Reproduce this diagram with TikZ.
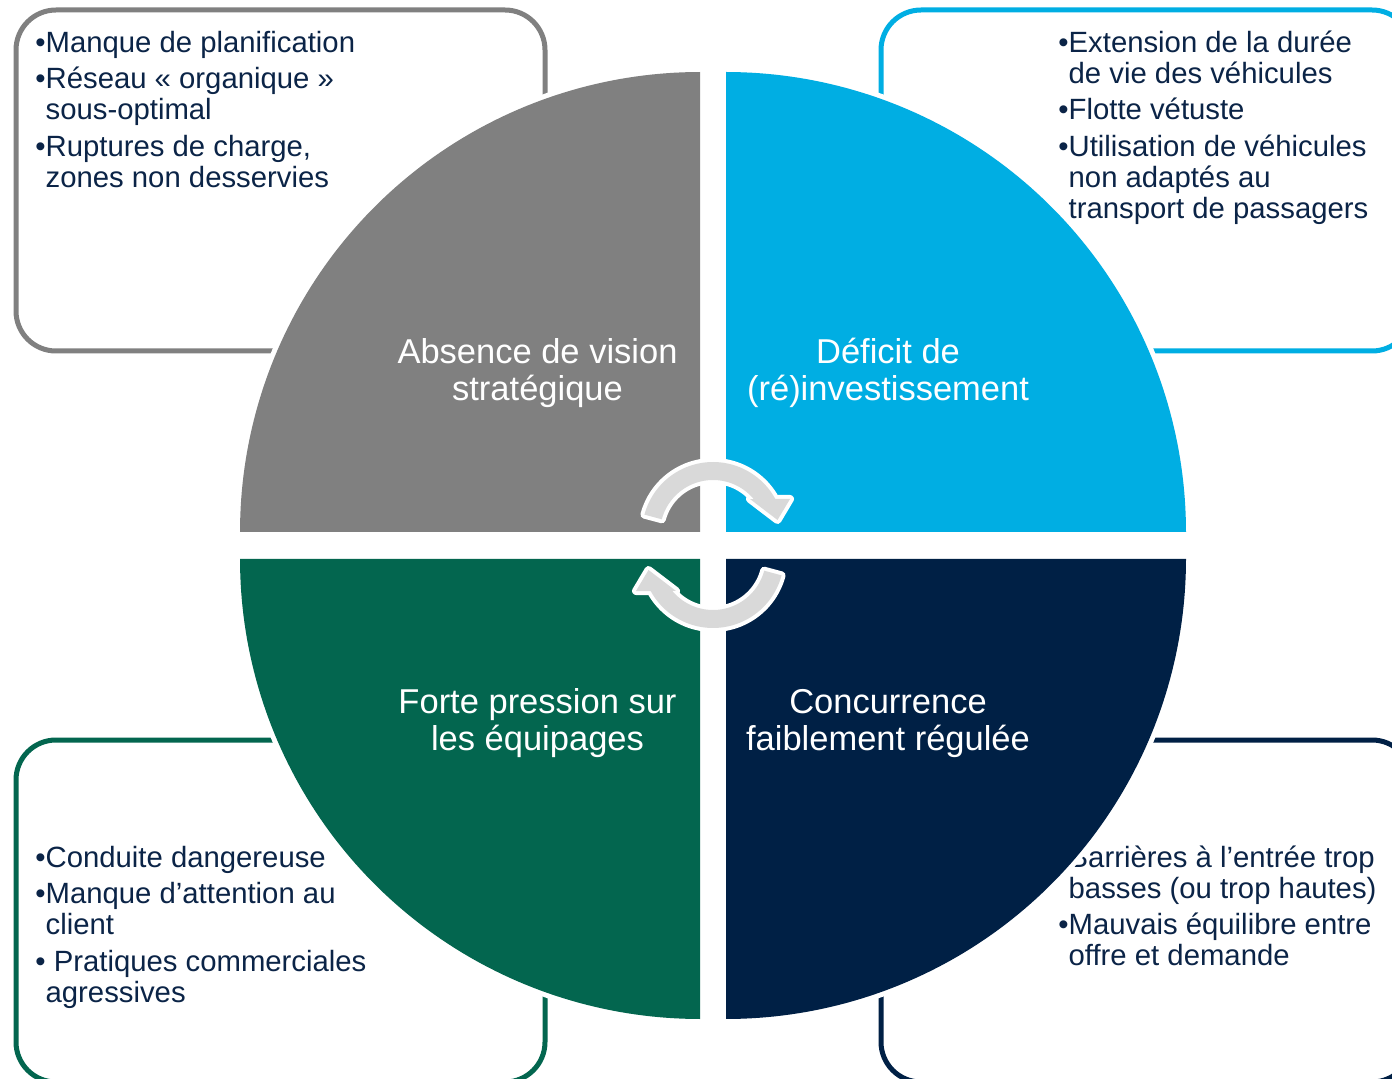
\documentclass[tikz,border=0pt]{standalone}
\usepackage{fontspec}
\setmainfont{Liberation Sans}
\definecolor{qgray}{HTML}{808080}
\definecolor{qblue}{HTML}{00AEE3}
\definecolor{qgreen}{HTML}{03664F}
\definecolor{qnavy}{HTML}{002045}
\definecolor{txtnavy}{HTML}{0B2447}
\definecolor{arrowgray}{HTML}{D9D9D9}
\newcommand{\bulind}{\hphantom{•}}
\begin{document}
\begin{tikzpicture}[x=0.5pt,y=-0.5pt,
  infobox/.style={line width=2.5pt, rounded corners=20pt},
  boxtext/.style={font=\fontsize{14.65}{15.5}\selectfont, text=txtnavy, align=left, inner sep=0pt, anchor=north west},
  quadlabel/.style={font=\fontsize{17.25}{18.5}\selectfont, text=white, align=center, inner sep=0pt, anchor=north},
  halo/.style={draw=white, line width=5pt, line join=round},
  arrowhalo/.style={draw=white, line width=4pt, line join=round}]
\useasboundingbox (0,0) rectangle (1392,1079);
\clip (0,0) rectangle (1392,1079);
\fill[white] (0,0) rectangle (1392,1079);

% outer boxes
\draw[infobox, draw=qgray]  (16,10)  rectangle (545,351);
\draw[infobox, draw=qblue]  (881,10) rectangle (1412,351);
\draw[infobox, draw=qgreen] (16,740) rectangle (545,1082);
\draw[infobox, draw=qnavy]  (881,740) rectangle (1412,1082);

% box texts
\node[boxtext] (tltext) at (35,28) {\rule{0pt}{12pt}•Manque de planification\\[2.75pt]
•Réseau « organique »\\
\bulind sous-optimal\\[2.75pt]
•Ruptures de charge,\\
\bulind zones non desservies};
\node[boxtext] (trtext) at (1058,28) {\rule{0pt}{12pt}•Extension de la durée\\
\bulind de vie des véhicules\\[2.75pt]
•Flotte vétuste\\[2.75pt]
•Utilisation de véhicules\\
\bulind non adaptés au\\
\bulind transport de passagers};
\node[boxtext] (bltext) at (35,843) {\rule{0pt}{12pt}•Conduite dangereuse\\[2.75pt]
•Manque d’attention au\\
\bulind client\\[2.75pt]
• Pratiques commerciales\\
\bulind agressives};
\node[boxtext] (brtext) at (1058,843) {\rule{0pt}{12pt}•Barrières à l’entrée trop\\
\bulind basses (ou trop hautes)\\[2.75pt]
•Mauvais équilibre entre\\
\bulind offre et demande};

% quarter discs: white halo first, then fill
\foreach \cx/\cy/\a/\b/\col in {700/532/180/270/qgray, 726/532/270/360/qblue, 726/559/0/90/qnavy, 700/559/90/180/qgreen}{
  \path[halo] (\cx,\cy) -- plot[domain=\a:\b, samples=90] ({\cx+460*cos(\x)},{\cy+460*sin(\x)}) -- cycle;
}
\foreach \cx/\cy/\a/\b/\col in {700/532/180/270/qgray, 726/532/270/360/qblue, 726/559/0/90/qnavy, 700/559/90/180/qgreen}{
  \fill[\col] (\cx,\cy) -- plot[domain=\a:\b, samples=90] ({\cx+460*cos(\x)},{\cy+460*sin(\x)}) -- cycle;
}

% quadrant labels
\node[quadlabel] (lbtl) at (537.5,335) {\rule{0pt}{14pt}Absence de vision\\ stratégique};
\node[quadlabel] (lbtr) at (888,335) {\rule{0pt}{14pt}Déficit de\\ (ré)investissement};
\node[quadlabel] (lbbl) at (537.5,685) {\rule{0pt}{14pt}Forte pression sur\\ les équipages};
\node[quadlabel] (lbbr) at (888,685) {\rule{0pt}{14pt}Concurrence\\ faiblement régulée};

% circular arrows
\foreach \sx/\sy/\rot in {713/533/0, 713/557/180}{
  \begin{scope}[shift={(\sx,\sy)}, rotate=\rot]
    \path[arrowhalo] plot[domain=195:331.2, samples=50] ({71*cos(\x)},{71*sin(\x)})
      -- (77,-34) -- (64.5,-13) -- (37,-34)
      -- plot[domain=320.5:195, samples=50] ({53*cos(\x)},{53*sin(\x)}) -- cycle;
    \fill[arrowgray] plot[domain=195:331.2, samples=50] ({71*cos(\x)},{71*sin(\x)})
      -- (77,-34) -- (64.5,-13) -- (37,-34)
      -- plot[domain=320.5:195, samples=50] ({53*cos(\x)},{53*sin(\x)}) -- cycle;
  \end{scope}
}
\end{tikzpicture}
\end{document}
